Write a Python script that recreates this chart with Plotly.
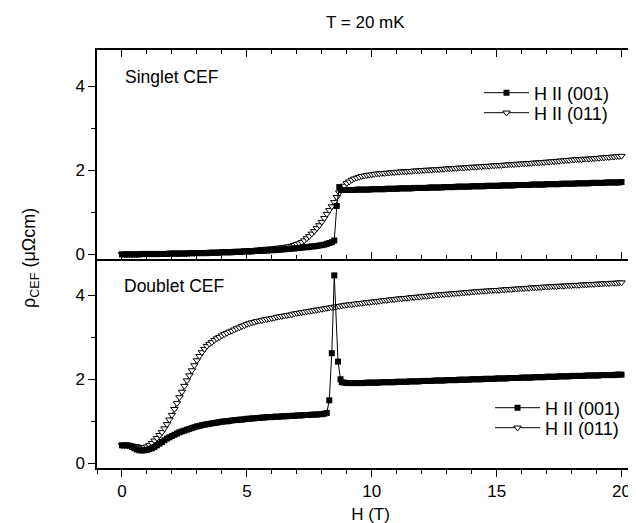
import plotly.graph_objects as go


def field_grid(start, stop, step=0.1):
    n = int(round((stop - start) / step)) + 1
    return [round(start + i * step, 2) for i in range(n)]


# ---------------- Singlet CEF (top panel) ----------------
# H || (011), open triangles, 0..20 T every 0.1 T
SING_011_H = field_grid(0.0, 20.0)
SING_011_RHO = [
    0.00, 0.00, 0.00, 0.00, 0.00, 0.00, 0.00, 0.01, 0.01, 0.01,
    0.01, 0.01, 0.01, 0.01, 0.01, 0.01, 0.02, 0.02, 0.02, 0.02,
    0.02, 0.02, 0.02, 0.02, 0.03, 0.03, 0.03, 0.03, 0.03, 0.03,
    0.04, 0.04, 0.04, 0.04, 0.04, 0.05, 0.05, 0.05, 0.05, 0.06,
    0.06, 0.06, 0.06, 0.07, 0.07, 0.07, 0.08, 0.08, 0.08, 0.09,
    0.09, 0.10, 0.10, 0.10, 0.11, 0.11, 0.12, 0.12, 0.13, 0.13,
    0.14, 0.14, 0.15, 0.16, 0.16, 0.17, 0.18, 0.19, 0.20, 0.22,
    0.24, 0.26, 0.29, 0.33, 0.38, 0.43, 0.49, 0.55, 0.62, 0.69,
    0.77, 0.86, 0.96, 1.05, 1.14, 1.24, 1.36, 1.47, 1.56, 1.63,
    1.69, 1.73, 1.77, 1.80, 1.82, 1.84, 1.86, 1.87, 1.88, 1.89,
    1.90, 1.91, 1.92, 1.92, 1.93, 1.93, 1.94, 1.94, 1.95, 1.95,
    1.96, 1.96, 1.97, 1.97, 1.97, 1.98, 1.98, 1.99, 1.99, 1.99,
    2.00, 2.00, 2.01, 2.01, 2.01, 2.02, 2.02, 2.02, 2.03, 2.03,
    2.04, 2.04, 2.04, 2.05, 2.05, 2.06, 2.06, 2.06, 2.07, 2.07,
    2.08, 2.08, 2.08, 2.09, 2.09, 2.10, 2.10, 2.10, 2.11, 2.11,
    2.12, 2.12, 2.12, 2.13, 2.13, 2.14, 2.14, 2.14, 2.15, 2.15,
    2.16, 2.16, 2.16, 2.17, 2.17, 2.18, 2.18, 2.18, 2.19, 2.19,
    2.20, 2.20, 2.21, 2.21, 2.22, 2.22, 2.23, 2.23, 2.24, 2.24,
    2.25, 2.25, 2.26, 2.26, 2.26, 2.27, 2.27, 2.27, 2.28, 2.28,
    2.29, 2.29, 2.30, 2.30, 2.31, 2.31, 2.32, 2.32, 2.33, 2.33,
    2.34,
]

# H || (001), filled squares
SING_001_LOW_H = field_grid(0.0, 8.4)
SING_001_LOW_RHO = [
    0.00, 0.00, 0.00, 0.00, 0.00, 0.00, 0.00, 0.00, 0.01, 0.01,
    0.01, 0.01, 0.01, 0.01, 0.01, 0.01, 0.01, 0.01, 0.01, 0.02,
    0.02, 0.02, 0.02, 0.02, 0.02, 0.02, 0.02, 0.03, 0.03, 0.03,
    0.03, 0.03, 0.03, 0.03, 0.03, 0.04, 0.04, 0.04, 0.04, 0.04,
    0.05, 0.05, 0.05, 0.05, 0.05, 0.06, 0.06, 0.06, 0.06, 0.07,
    0.07, 0.07, 0.07, 0.08, 0.08, 0.08, 0.09, 0.09, 0.09, 0.10,
    0.10, 0.10, 0.11, 0.11, 0.12, 0.12, 0.13, 0.13, 0.14, 0.14,
    0.15, 0.15, 0.16, 0.17, 0.17, 0.18, 0.19, 0.19, 0.20, 0.21,
    0.22, 0.23, 0.25, 0.27, 0.29,
]
SING_001_JUMP_H = [8.5, 8.6, 8.7]
SING_001_JUMP_RHO = [0.33, 1.15, 1.60]
SING_001_HIGH_H = field_grid(8.8, 20.0)
SING_001_HIGH_RHO = [
    1.53, 1.53,
    1.53, 1.53, 1.53, 1.53, 1.54, 1.54, 1.54, 1.54, 1.54, 1.54,
    1.55, 1.55, 1.55, 1.55, 1.55, 1.55, 1.56, 1.56, 1.56, 1.56,
    1.56, 1.57, 1.57, 1.57, 1.57, 1.57, 1.57, 1.58, 1.58, 1.58,
    1.58, 1.58, 1.58, 1.59, 1.59, 1.59, 1.59, 1.59, 1.59, 1.60,
    1.60, 1.60, 1.60, 1.60, 1.61, 1.61, 1.61, 1.61, 1.61, 1.61,
    1.62, 1.62, 1.62, 1.62, 1.62, 1.62, 1.63, 1.63, 1.63, 1.63,
    1.63, 1.63, 1.64, 1.64, 1.64, 1.64, 1.64, 1.64, 1.65, 1.65,
    1.65, 1.65, 1.65, 1.65, 1.66, 1.66, 1.66, 1.66, 1.66, 1.66,
    1.67, 1.67, 1.67, 1.67, 1.67, 1.67, 1.68, 1.68, 1.68, 1.68,
    1.68, 1.68, 1.69, 1.69, 1.69, 1.69, 1.69, 1.69, 1.70, 1.70,
    1.70, 1.70, 1.70, 1.70, 1.71, 1.71, 1.71, 1.71, 1.71, 1.71,
    1.72,
]

# ---------------- Doublet CEF (bottom panel) ----------------
DOUB_011_H = field_grid(0.0, 20.0)
DOUB_011_RHO = [
    0.43, 0.43, 0.43, 0.43, 0.42, 0.41, 0.40, 0.38, 0.37, 0.38,
    0.40, 0.43, 0.48, 0.54, 0.60, 0.67, 0.74, 0.83, 0.93, 1.04,
    1.15, 1.29, 1.43, 1.57, 1.70, 1.84, 1.97, 2.09, 2.21, 2.33,
    2.45, 2.55, 2.64, 2.72, 2.79, 2.84, 2.88, 2.93, 2.97, 3.00,
    3.04, 3.07, 3.10, 3.13, 3.15, 3.18, 3.21, 3.23, 3.26, 3.28,
    3.31, 3.33, 3.35, 3.36, 3.38, 3.39, 3.40, 3.42, 3.43, 3.44,
    3.45, 3.46, 3.48, 3.49, 3.50, 3.51, 3.52, 3.53, 3.54, 3.56,
    3.57, 3.58, 3.59, 3.60, 3.61, 3.62, 3.63, 3.64, 3.65, 3.66,
    3.67, 3.68, 3.69, 3.70, 3.71, 3.72, 3.73, 3.74, 3.75, 3.76,
    3.77, 3.78, 3.78, 3.79, 3.80, 3.81, 3.81, 3.82, 3.83, 3.83,
    3.84, 3.85, 3.85, 3.86, 3.87, 3.88, 3.88, 3.89, 3.90, 3.90,
    3.91, 3.92, 3.92, 3.93, 3.93, 3.94, 3.95, 3.95, 3.96, 3.96,
    3.97, 3.98, 3.98, 3.99, 3.99, 4.00, 4.01, 4.01, 4.02, 4.02,
    4.03, 4.03, 4.04, 4.04, 4.05, 4.05, 4.06, 4.06, 4.07, 4.07,
    4.08, 4.08, 4.09, 4.09, 4.10, 4.10, 4.10, 4.11, 4.11, 4.12,
    4.12, 4.12, 4.13, 4.13, 4.14, 4.14, 4.14, 4.15, 4.15, 4.16,
    4.16, 4.16, 4.17, 4.17, 4.18, 4.18, 4.18, 4.19, 4.19, 4.20,
    4.20, 4.20, 4.21, 4.21, 4.21, 4.22, 4.22, 4.22, 4.23, 4.23,
    4.23, 4.24, 4.24, 4.24, 4.25, 4.25, 4.25, 4.26, 4.26, 4.26,
    4.27, 4.27, 4.27, 4.28, 4.28, 4.28, 4.29, 4.29, 4.29, 4.30,
    4.30,
]

DOUB_001_LOW_H = field_grid(0.0, 8.2)
DOUB_001_LOW_RHO = [
    0.43, 0.43, 0.43, 0.42, 0.39, 0.36, 0.33, 0.31, 0.31, 0.31,
    0.32, 0.34, 0.36, 0.39, 0.43, 0.47, 0.51, 0.55, 0.59, 0.62,
    0.65, 0.68, 0.71, 0.74, 0.76, 0.78, 0.80, 0.82, 0.84, 0.86,
    0.88, 0.89, 0.91, 0.92, 0.93, 0.94, 0.95, 0.96, 0.97, 0.98,
    0.99, 1.00, 1.00, 1.01, 1.02, 1.03, 1.03, 1.04, 1.04, 1.05,
    1.06, 1.06, 1.07, 1.07, 1.08, 1.08, 1.09, 1.09, 1.10, 1.10,
    1.10, 1.11, 1.11, 1.11, 1.12, 1.12, 1.12, 1.13, 1.13, 1.13,
    1.14, 1.14, 1.14, 1.15, 1.15, 1.15, 1.16, 1.16, 1.16, 1.17,
    1.17, 1.18, 1.20,
]
DOUB_001_JUMP_H = [8.3, 8.4, 8.5, 8.65, 8.75]
DOUB_001_JUMP_RHO = [1.50, 2.62, 4.47, 2.42, 2.00]
DOUB_001_HIGH_H = field_grid(8.8, 20.0)
DOUB_001_HIGH_RHO = [
    1.93, 1.92,
    1.91, 1.91, 1.91, 1.91, 1.91, 1.91, 1.91, 1.91, 1.92, 1.92,
    1.92, 1.92, 1.92, 1.92, 1.93, 1.93, 1.93, 1.93, 1.93, 1.93,
    1.94, 1.94, 1.94, 1.94, 1.94, 1.95, 1.95, 1.95, 1.95, 1.95,
    1.96, 1.96, 1.96, 1.96, 1.96, 1.97, 1.97, 1.97, 1.97, 1.97,
    1.98, 1.98, 1.98, 1.98, 1.98, 1.99, 1.99, 1.99, 1.99, 1.99,
    2.00, 2.00, 2.00, 2.00, 2.00, 2.01, 2.01, 2.01, 2.01, 2.01,
    2.02, 2.02, 2.02, 2.02, 2.02, 2.03, 2.03, 2.03, 2.03, 2.03,
    2.04, 2.04, 2.04, 2.04, 2.04, 2.05, 2.05, 2.05, 2.05, 2.05,
    2.06, 2.06, 2.06, 2.06, 2.06, 2.07, 2.07, 2.07, 2.07, 2.07,
    2.08, 2.08, 2.08, 2.08, 2.08, 2.08, 2.09, 2.09, 2.09, 2.09,
    2.09, 2.09, 2.10, 2.10, 2.10, 2.10, 2.10, 2.10, 2.11, 2.11,
    2.11,
]

SERIES_NAMES = ["H II (001)", "H II (011)"]
PANEL_LABELS = ["Singlet CEF", "Doublet CEF"]
TITLE = "T = 20 mK"
X_TITLE = "H (T)"
Y_TITLE = "ρ<sub>CEF</sub> (μΩcm)"

FONT = "Liberation Sans, Arial, sans-serif"
X_RANGE = [-1.0, 20.9]
Y_RANGE = [-0.11, 4.86]

# figure geometry (pixels)
W, H = 636, 523
ML, MR, MT, MB = 89, 0, 42, 63
PW, PH = W - ML - MR, H - MT - MB


def px_x(px):
    return (px - ML) / PW


def px_y(py):
    return (H - MB - py) / PH


fig = go.Figure()

sq_marker = dict(symbol="square", size=6, color="black",
                 line=dict(width=0))
tri_marker = dict(symbol="triangle-down", size=6.5, color="white",
                  line=dict(color="black", width=1))
line_style = dict(color="black", width=1)

panels = [
    ("x", "y", ("legend", "legend2"),
     SING_011_H, SING_011_RHO,
     SING_001_LOW_H + SING_001_JUMP_H + SING_001_HIGH_H,
     SING_001_LOW_RHO + SING_001_JUMP_RHO + SING_001_HIGH_RHO),
    ("x2", "y2", ("legend3", "legend4"),
     DOUB_011_H, DOUB_011_RHO,
     DOUB_001_LOW_H + DOUB_001_JUMP_H + DOUB_001_HIGH_H,
     DOUB_001_LOW_RHO + DOUB_001_JUMP_RHO + DOUB_001_HIGH_RHO),
]

for xa, ya, legs, h011, r011, h001, r001 in panels:
    fig.add_trace(go.Scatter(
        x=h011, y=r011, mode="lines+markers", name=SERIES_NAMES[1],
        marker=tri_marker, line=line_style, xaxis=xa, yaxis=ya,
        legend=legs[1]))
    fig.add_trace(go.Scatter(
        x=h001, y=r001, mode="lines+markers", name=SERIES_NAMES[0],
        marker=sq_marker, line=line_style, xaxis=xa, yaxis=ya,
        legend=legs[0]))

axis_common = dict(showgrid=False, zeroline=False, showline=True,
                   linecolor="black", linewidth=1.5, tickcolor="black",
                   tickwidth=1)


def minor(direction):
    return dict(dtick=1, ticks=direction, ticklen=4, tickcolor="black",
                tickwidth=1)


TICKFONT = dict(size=17, family=FONT, color="black")

fig.update_layout(
    xaxis=dict(**axis_common, domain=[0, 1], anchor="y", range=X_RANGE,
               tick0=0, dtick=5, ticks="inside", ticklen=7,
               minor=minor("inside"), mirror="allticks",
               showticklabels=False),
    xaxis2=dict(**axis_common, domain=[0, 1], anchor="y2", range=X_RANGE,
                tick0=0, dtick=5, ticks="outside", ticklen=7,
                minor=minor("outside"), tickfont=TICKFONT,
                title=dict(text=X_TITLE, standoff=8,
                           font=dict(size=17, family=FONT))),
    xaxis3=dict(showgrid=False, zeroline=False, showline=False,
                overlaying="x2", anchor="y2", side="top", range=X_RANGE,
                tick0=0, dtick=5, ticks="inside", ticklen=7, tickwidth=1,
                tickcolor="black", minor=minor("inside"),
                showticklabels=False),
    yaxis=dict(**axis_common, domain=[0.5, 1], anchor="x", range=Y_RANGE,
               tick0=0, dtick=2, ticks="outside", ticklen=7,
               minor=minor("outside"), tickfont=TICKFONT),
    yaxis2=dict(**axis_common, domain=[0, 0.5], anchor="x2", range=Y_RANGE,
                tick0=0, dtick=2, ticks="outside", ticklen=7,
                minor=minor("outside"), tickfont=TICKFONT),
    yaxis3=dict(showgrid=False, zeroline=False, showline=False,
                overlaying="y", anchor="x", side="right", range=Y_RANGE,
                tick0=0, dtick=2, ticks="inside", ticklen=7, tickwidth=1,
                tickcolor="black", minor=minor("inside"),
                showticklabels=False),
    yaxis4=dict(showgrid=False, zeroline=False, showline=False,
                overlaying="y2", anchor="x2", side="right", range=Y_RANGE,
                tick0=0, dtick=2, ticks="inside", ticklen=7, tickwidth=1,
                tickcolor="black", minor=minor("inside"),
                showticklabels=False),
)

legend_common = dict(xanchor="left", yanchor="middle",
                     bgcolor="rgba(0,0,0,0)", borderwidth=0,
                     itemwidth=45,
                     font=dict(size=18, family=FONT, color="black"))
fig.update_layout(
    legend=dict(**legend_common, x=px_x(471), y=px_y(85)),
    legend2=dict(**legend_common, x=px_x(471), y=px_y(105)),
    legend3=dict(**legend_common, x=px_x(482), y=px_y(400)),
    legend4=dict(**legend_common, x=px_x(482), y=px_y(420)),
)

annotations = [
    dict(text=TITLE, xref="paper", yref="paper", x=px_x(357), y=px_y(15),
         showarrow=False, font=dict(size=17), xanchor="center",
         yanchor="middle"),
    dict(text=PANEL_LABELS[0], xref="paper", yref="paper", x=px_x(115),
         y=px_y(69), showarrow=False, font=dict(size=17.5),
         xanchor="left", yanchor="middle"),
    dict(text=PANEL_LABELS[1], xref="paper", yref="paper", x=px_x(114),
         y=px_y(278), showarrow=False, font=dict(size=17.5),
         xanchor="left", yanchor="middle"),
    dict(text=Y_TITLE, xref="paper", yref="paper", x=px_x(22),
         y=px_y(250), showarrow=False, textangle=-90,
         font=dict(size=18), xanchor="center", yanchor="middle"),
]

fig.update_layout(
    width=W, height=H,
    margin=dict(l=ML, r=MR, t=MT, b=MB, pad=0),
    plot_bgcolor="white", paper_bgcolor="white",
    font=dict(family=FONT, size=17, color="black"),
    annotations=annotations,
    showlegend=True,
)

fig.write_html("out.html")
